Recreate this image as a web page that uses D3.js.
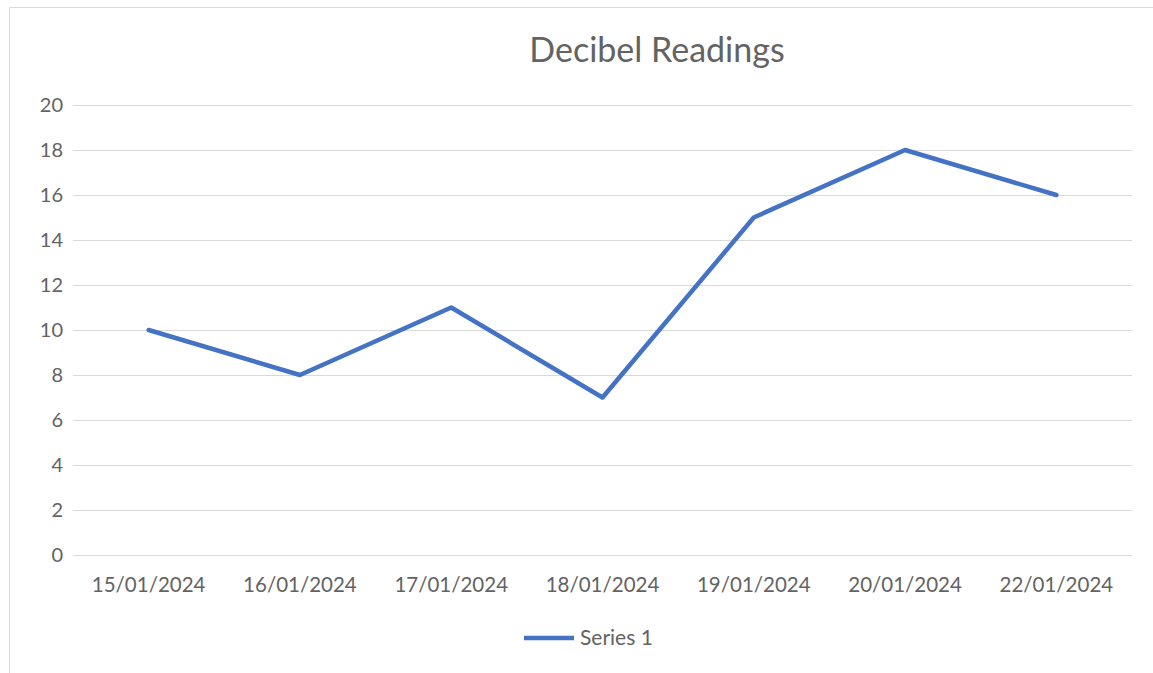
<!DOCTYPE html>
<html>
<head>
<meta charset="utf-8">
<script src="https://cdn.jsdelivr.net/npm/d3@7"></script>
<style>
  body { margin: 0; background: #fff; }
  svg text { font-family: "Lato", "Open Sans", sans-serif; fill: #636363; }
</style>
</head>
<body>
<div id="chart"></div>
<script>
// data
var dates = ['15/01/2024', '16/01/2024', '17/01/2024', '18/01/2024', '19/01/2024', '20/01/2024', '22/01/2024'];
var series1 = [10, 8, 11, 7, 15, 18, 16];
var yTicks = [0, 2, 4, 6, 8, 10, 12, 14, 16, 18, 20];

var W = 1153, H = 673;
var margin = {top: 105, right: 21, bottom: 118, left: 73},
    width = W - margin.left - margin.right,
    height = H - margin.top - margin.bottom;

var svg = d3.select('#chart').append('svg')
  .attr('width', W)
  .attr('height', H);

// chart border
svg.append('path')
  .attr('d', 'M9.5,' + H + 'V7.5H' + W)
  .attr('fill', 'none')
  .attr('stroke', '#d9d9d9')
  .attr('stroke-width', 1);

var g = svg.append('g')
  .attr('transform', 'translate(' + margin.left + ',' + margin.top + ')');

var x = d3.scaleBand()
  .range([0, width])
  .domain(dates);

var y = d3.scaleLinear()
  .range([height, 0])
  .domain([0, 20]);

// gridlines + y labels
var yAxis = g.append('g')
  .attr('class', 'y-axis')
  .call(d3.axisLeft(y).tickValues(yTicks).tickSize(-width).tickPadding(10));
yAxis.select('.domain').remove();
yAxis.selectAll('line').attr('stroke', '#d9d9d9').attr('stroke-width', 1);
yAxis.selectAll('text').attr('font-size', 20).style('fill', '#636363');

// x labels
var xAxis = g.append('g')
  .attr('class', 'x-axis')
  .attr('transform', 'translate(0,' + height + ')')
  .call(d3.axisBottom(x).tickSize(0).tickPadding(22));
xAxis.select('.domain').remove();
xAxis.selectAll('text').attr('font-size', 20.5).style('fill', '#636363');

// line
var line = d3.line()
  .x(function(d, i) { return x(dates[i]) + x.bandwidth() / 2; })
  .y(function(d) { return y(d); });

g.append('path')
  .datum(series1)
  .attr('fill', 'none')
  .attr('stroke', '#4472c4')
  .attr('stroke-width', 4.5)
  .attr('stroke-linejoin', 'round')
  .attr('stroke-linecap', 'round')
  .attr('d', line);

// title
svg.append('text')
  .attr('x', 657)
  .attr('y', 62)
  .attr('text-anchor', 'middle')
  .attr('font-size', 34)
  .text('Decibel Readings');

// legend
var legend = svg.append('g').attr('transform', 'translate(524,638)');
legend.append('line')
  .attr('x1', 0).attr('x2', 50)
  .attr('stroke', '#4472c4')
  .attr('stroke-width', 4.5);
legend.append('text')
  .attr('x', 56)
  .attr('dy', '0.35em')
  .attr('font-size', 21)
  .text('Series 1');
</script>
</body>
</html>
